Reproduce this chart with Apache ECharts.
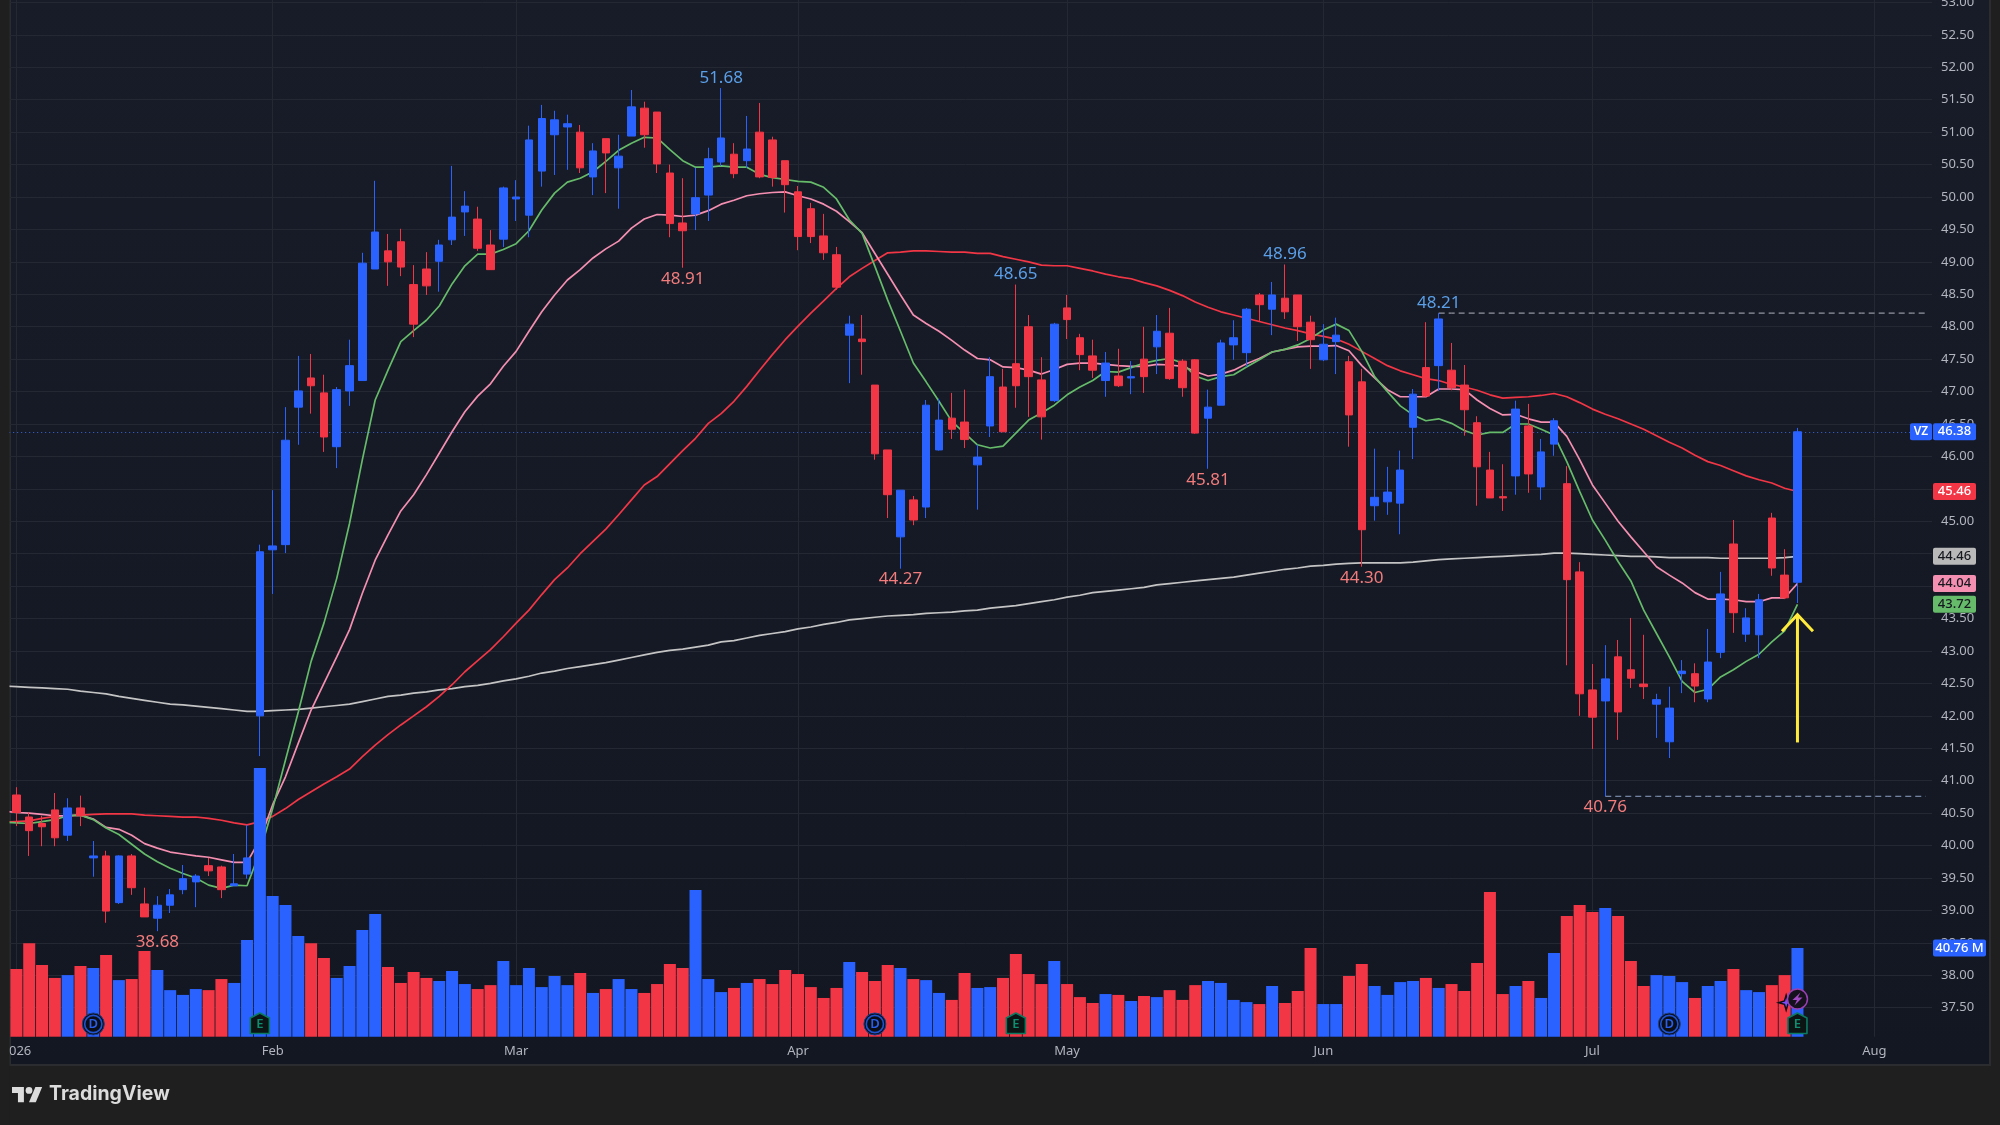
<!DOCTYPE html>
<html>
<head>
<meta charset="utf-8">
<title>VZ daily chart</title>
<script src="https://cdn.jsdelivr.net/npm/echarts@6/dist/echarts.min.js"></script>
<style>
  html, body { margin: 0; padding: 0; background: #1f1f1f; }
  #chart { width: 2000px; height: 1125px; }
</style>
</head>
<body>
<div id="chart"></div>
<script>
// Session candles: [open, close, low, high]
const candles = [
  [40.78,40.51,40.30,40.90],[40.44,40.23,39.84,40.51],[40.34,40.29,39.99,40.46],[40.55,40.12,39.99,40.81],
  [40.16,40.58,40.07,40.73],[40.58,40.46,40.30,40.77],[39.81,39.84,39.52,40.07],[39.84,38.99,38.81,39.92],
  [39.12,39.84,39.10,39.85],[39.84,39.35,39.24,39.87],[39.10,38.90,38.90,39.35],[38.88,39.08,38.68,39.22],
  [39.08,39.24,38.96,39.33],[39.32,39.49,39.25,39.70],[39.44,39.53,39.05,39.56],[39.69,39.61,39.53,39.81],
  [39.67,39.32,39.19,39.69],[39.38,39.41,39.38,39.87],[39.56,39.81,39.49,40.32],[42.00,44.53,41.38,44.64],
  [44.56,44.62,43.88,45.48],[44.64,46.25,44.51,46.76],[46.76,47.01,46.18,47.55],[47.21,47.09,46.66,47.58],
  [46.98,46.30,46.07,47.26],[46.15,47.03,45.82,47.07],[47.01,47.40,46.78,47.80],[47.17,48.98,47.17,49.14],
  [48.89,49.46,48.89,50.25],[49.17,49.00,48.63,49.43],[49.31,48.92,48.78,49.51],[48.65,48.04,47.84,48.95],
  [48.89,48.63,48.49,49.15],[49.01,49.26,48.54,49.34],[49.34,49.69,49.26,50.48],[49.77,49.86,49.40,50.09],
  [49.66,49.21,49.17,49.85],[49.26,48.88,48.88,49.49],[49.35,50.14,49.23,50.16],[49.97,50.00,49.63,50.26],
  [49.72,50.88,49.38,51.10],[50.40,51.21,50.16,51.42],[50.96,51.19,50.34,51.33],[51.08,51.13,50.42,51.27],
  [51.00,50.45,50.37,51.11],[50.31,50.71,50.03,50.83],[50.90,50.68,50.06,50.90],[50.45,50.63,49.82,50.96],
  [50.94,51.39,50.94,51.65],[51.37,50.96,50.76,51.47],[51.31,50.51,50.37,51.31],[50.37,49.59,49.38,50.50],
  [49.60,49.48,48.91,50.29],[49.74,49.99,49.49,50.45],[50.03,50.59,49.63,50.76],[50.54,50.91,50.48,51.68],
  [50.66,50.36,50.29,50.83],[50.56,50.74,50.45,51.25],[51.00,50.31,50.29,51.45],[50.88,50.30,50.16,50.93],
  [50.56,50.19,49.76,50.56],[50.08,49.39,49.18,50.17],[49.82,49.39,49.29,49.91],[49.40,49.14,49.03,49.74],
  [49.11,48.61,48.57,49.23],[47.87,48.04,47.13,48.17],[47.81,47.77,47.26,48.18],[47.10,46.04,45.95,47.10],
  [46.10,45.41,45.05,46.10],[44.76,45.48,44.27,45.48],[45.33,45.02,44.94,45.39],[45.22,46.79,45.05,46.87],
  [46.10,46.56,46.09,46.89],[46.59,46.42,46.27,46.98],[46.53,46.26,46.13,47.03],[45.87,45.99,45.18,46.18],
  [46.47,47.23,46.30,47.53],[47.07,46.38,46.38,47.35],[47.43,47.09,46.75,48.65],[48.00,47.23,46.61,48.18],
  [47.18,46.61,46.26,47.53],[46.86,48.04,46.84,48.06],[48.29,48.11,47.81,48.49],[47.83,47.57,47.33,47.89],
  [47.55,47.33,47.21,47.80],[47.17,47.44,46.92,47.61],[47.24,47.09,47.07,47.66],[47.21,47.23,46.96,47.47],
  [47.50,47.23,46.98,48.00],[47.69,47.93,47.27,48.18],[47.90,47.20,47.18,48.29],[47.47,47.06,46.92,47.50],
  [47.49,46.36,46.35,47.50],[46.59,46.76,45.81,47.03],[46.79,47.75,46.79,47.80],[47.72,47.83,47.49,48.10],
  [47.60,48.27,47.38,48.29],[48.49,48.34,48.09,48.52],[48.27,48.49,47.87,48.69],[48.44,48.23,48.12,48.96],
  [48.49,48.00,47.78,48.49],[48.07,47.80,47.35,48.17],[47.49,47.73,47.47,48.04],[47.77,47.87,47.27,48.14],
  [47.46,46.64,46.15,47.55],[47.15,44.87,44.30,47.35],[45.24,45.37,45.01,46.12],[45.30,45.45,45.10,45.84],
  [45.28,45.79,44.80,46.09],[46.45,46.96,45.96,47.04],[47.37,46.93,46.92,48.07],[47.40,48.12,47.01,48.21],
  [47.33,47.06,47.02,47.75],[47.10,46.72,46.32,47.41],[46.52,45.84,45.24,46.62],[45.79,45.36,45.36,46.07],
  [45.38,45.36,45.16,45.88],[45.70,46.73,45.41,46.86],[46.47,45.73,45.44,46.81],[45.53,46.07,45.33,46.27],
  [46.19,46.55,46.01,46.59],[45.58,44.10,42.78,45.85],[44.22,42.34,42.00,44.37],[42.40,41.98,41.49,42.80],
  [42.23,42.57,40.76,43.09],[42.91,42.06,41.63,43.17],[42.71,42.58,42.43,43.51],[42.49,42.45,42.26,43.25],
  [42.18,42.25,41.66,42.34],[41.60,42.12,41.35,42.45],[42.65,42.69,42.35,42.86],[42.65,42.46,42.21,42.81],
  [42.26,42.83,42.21,43.34],[42.98,43.88,42.89,44.22],[44.65,43.59,43.28,45.02],[43.26,43.51,43.14,43.66],
  [43.25,43.79,42.89,43.88],[45.05,44.28,44.16,45.13],[44.17,43.82,43.80,44.57],[44.06,46.38,43.74,46.44]
];

// Session volume, millions of shares
const volumes = [
  31.1,43.0,32.9,27.0,28.3,32.5,31.6,37.5,26.0,26.5,39.4,30.6,21.4,19.2,21.9,21.4,26.5,24.7,44.4,123.5,
  64.7,60.5,46.3,43.0,36.2,27.0,32.5,49.0,56.4,32.0,24.7,29.7,27.0,25.6,30.2,24.2,21.9,23.7,34.8,23.7,
  31.6,22.8,27.9,23.7,29.3,20.1,21.9,26.5,21.9,20.1,24.2,33.4,31.6,67.4,26.5,20.5,22.4,24.7,26.5,24.2,
  30.6,28.8,22.8,17.8,22.4,34.3,29.7,25.6,32.9,31.6,26.5,26.0,20.1,16.9,29.3,22.4,22.8,27.0,38.0,28.8,
  24.2,34.8,24.2,18.2,15.5,19.6,19.2,16.4,18.7,18.2,21.4,16.9,23.7,25.6,24.7,16.9,15.9,15.0,23.3,15.5,
  21.0,40.8,15.0,15.0,27.9,33.4,23.3,19.2,25.1,25.6,27.0,22.4,24.2,21.0,33.9,66.5,19.6,23.3,25.6,17.8,
  38.5,55.5,60.5,57.3,59.1,55.5,34.8,23.3,28.3,27.9,25.1,17.8,23.3,25.6,31.1,21.4,20.5,23.7,28.3,40.76
];

// Moving averages; the first reading belongs to the session just before the visible window
const maGreen = [40.36,
  40.35,40.34,40.37,40.40,40.46,40.47,40.40,40.27,40.17,40.02,39.87,39.75,39.65,39.57,39.50,39.39,39.34,39.39,39.38,39.90,
  40.57,41.32,42.06,42.84,43.43,44.12,44.97,45.95,46.87,47.33,47.77,47.94,48.10,48.32,48.66,48.94,49.12,49.12,49.19,49.28,
  49.48,49.80,50.06,50.23,50.29,50.39,50.55,50.72,50.83,50.92,50.91,50.73,50.56,50.46,50.46,50.48,50.46,50.46,50.35,50.30,
  50.27,50.24,50.23,50.15,49.97,49.65,49.44,48.93,48.41,47.93,47.44,47.15,46.85,46.54,46.36,46.18,46.13,46.16,46.36,46.56,
  46.67,46.79,46.95,47.07,47.17,47.31,47.30,47.37,47.44,47.48,47.51,47.44,47.24,47.17,47.23,47.26,47.38,47.49,47.61,47.65,
  47.72,47.82,47.95,48.04,47.94,47.62,47.23,47.00,46.78,46.64,46.55,46.58,46.51,46.40,46.33,46.37,46.37,46.50,46.50,46.42,
  46.33,45.92,45.46,45.02,44.71,44.38,44.08,43.63,43.27,42.91,42.53,42.36,42.41,42.60,42.71,42.84,42.95,43.14,43.31,43.72
];
const maPink = [40.53,
  40.51,40.50,40.48,40.46,40.46,40.47,40.41,40.28,40.25,40.16,40.03,39.96,39.90,39.87,39.84,39.82,39.78,39.74,39.74,40.09,
  40.63,41.06,41.58,42.09,42.50,42.91,43.33,43.89,44.40,44.79,45.16,45.41,45.72,46.05,46.38,46.69,46.93,47.12,47.39,47.62,
  47.93,48.23,48.49,48.72,48.88,49.06,49.20,49.32,49.52,49.66,49.73,49.72,49.70,49.72,49.79,49.89,49.95,50.02,50.05,50.07,
  50.08,50.02,49.97,49.89,49.78,49.62,49.45,49.13,48.81,48.49,48.18,48.05,47.93,47.79,47.64,47.51,47.49,47.38,47.37,47.33,
  47.27,47.34,47.42,47.44,47.44,47.42,47.40,47.39,47.39,47.42,47.41,47.39,47.31,47.24,47.27,47.33,47.43,47.51,47.61,47.65,
  47.69,47.70,47.70,47.71,47.63,47.40,47.21,47.03,46.92,46.92,46.92,47.04,47.04,47.03,46.87,46.74,46.64,46.65,46.58,46.53,
  46.53,46.31,45.95,45.56,45.28,45.00,44.76,44.53,44.30,44.17,44.05,43.90,43.80,43.80,43.79,43.76,43.76,43.82,43.82,44.04
];
const maRed = [40.36,
  40.37,40.38,40.42,40.45,40.46,40.47,40.48,40.49,40.49,40.49,40.47,40.46,40.45,40.44,40.44,40.42,40.39,40.35,40.32,40.37,
  40.45,40.57,40.71,40.83,40.95,41.06,41.18,41.37,41.55,41.71,41.86,42.00,42.14,42.30,42.48,42.68,42.85,43.02,43.22,43.43,
  43.63,43.87,44.10,44.28,44.50,44.69,44.88,45.10,45.33,45.56,45.69,45.89,46.09,46.28,46.51,46.66,46.85,47.08,47.33,47.57,
  47.80,48.01,48.21,48.40,48.59,48.77,48.90,49.02,49.14,49.15,49.17,49.17,49.16,49.15,49.15,49.13,49.13,49.08,49.04,49.00,
  48.95,48.94,48.94,48.90,48.86,48.81,48.77,48.74,48.68,48.63,48.56,48.48,48.38,48.30,48.23,48.18,48.13,48.08,48.03,47.98,
  47.94,47.89,47.85,47.81,47.73,47.62,47.51,47.40,47.32,47.26,47.20,47.17,47.11,47.07,47.02,46.95,46.90,46.91,46.92,46.94,
  46.97,46.92,46.83,46.73,46.65,46.58,46.50,46.42,46.32,46.22,46.13,46.02,45.92,45.86,45.78,45.70,45.64,45.59,45.51,45.46
];
const maGrey = [42.46,
  42.45,42.44,42.43,42.42,42.41,42.38,42.36,42.34,42.30,42.27,42.24,42.21,42.18,42.17,42.15,42.13,42.11,42.09,42.07,42.07,
  42.08,42.09,42.10,42.12,42.14,42.16,42.18,42.22,42.26,42.30,42.32,42.35,42.37,42.40,42.42,42.45,42.47,42.50,42.54,42.57,
  42.61,42.66,42.69,42.73,42.76,42.79,42.82,42.86,42.90,42.94,42.98,43.01,43.03,43.06,43.09,43.14,43.16,43.20,43.24,43.27,
  43.30,43.34,43.37,43.41,43.44,43.48,43.50,43.52,43.54,43.55,43.56,43.58,43.59,43.60,43.62,43.63,43.66,43.68,43.70,43.73,
  43.76,43.79,43.83,43.86,43.90,43.92,43.94,43.96,43.98,44.02,44.04,44.06,44.08,44.10,44.12,44.14,44.17,44.20,44.23,44.26,
  44.28,44.31,44.32,44.34,44.35,44.36,44.36,44.36,44.36,44.37,44.39,44.41,44.42,44.43,44.44,44.45,44.46,44.47,44.48,44.49,
  44.51,44.51,44.50,44.49,44.48,44.47,44.46,44.46,44.45,44.44,44.44,44.44,44.44,44.43,44.43,44.43,44.43,44.43,44.44,44.46
];

// Month ticks: session number and caption
const monthBars = [0, 20, 39, 61, 82, 102, 123, 145];
const monthNames = ['2026', 'Feb', 'Mar', 'Apr', 'May', 'Jun', 'Jul', 'Aug'];
const visibleSlots = 150;

// Swing highs and lows printed beside the candles: [session, price, side]
const swings = [
  [11, 38.68, 'low'], [52, 48.91, 'low'], [55, 51.68, 'high'], [69, 44.27, 'low'], [78, 48.65, 'high'],
  [93, 45.81, 'low'], [99, 48.96, 'high'], [105, 44.30, 'low'], [111, 48.21, 'high'], [124, 40.76, 'low']
];

// Right-scale tags: [value, background, text colour]
const priceTags = [
  [45.46, '#f23645', '#ffffff'],
  [44.46, '#b9b9b9', '#16181f'],
  [44.04, '#f48fb1', '#16181f'],
  [43.72, '#66bb6a', '#16181f'],
  [46.38, '#2962ff', '#ffffff']
];
const lastPrice = 46.38;
const lastVolumeText = '40.76 M';
const tickerName = 'VZ';

// Corporate-event markers on the volume baseline
const dividendBars = [6, 67, 129];
const earningsBars = [19, 78, 139];

// Dashed levels from the last swing high and low, and the annotation arrow
const levelHigh = { bar: 111, price: 48.21 };
const levelLow = { bar: 124, price: 40.76 };
const arrow = { bar: 139, tail: 41.59, tip: 43.56 };

const UP = '#2962ff', DOWN = '#f23645';
const AXIS_TEXT = '#b2b5be';
const GRID_LINE = '#242832';
const FONT = '"Noto Sans"';

// One hidden slot sits left of the panel so the averages run up to its edge
const LEAD = 1;
const SLOT_PX = 1922 / visibleSlots;
const slotCount = visibleSlots + LEAD;
const lastSlot = slotCount - 1;

const categories = Array.from({ length: slotCount }, (_, s) => {
  const at = monthBars.indexOf(s - LEAD);
  return at >= 0 ? monthNames[at] : '';
});
const isMonth = (s) => monthBars.indexOf(s - LEAD) >= 0;
const isUp = (c) => c[1] > c[0];

const centerText = (text, x, y, fill, font) => ({
  type: 'text',
  style: { text, x, y, fill, font, align: 'center', verticalAlign: 'middle', textAlign: 'center', textVerticalAlign: 'middle' }
});

const chart = echarts.init(document.getElementById('chart'), null, { renderer: 'canvas' });

const lineSeries = (name, data, color) => ({
  name, type: 'line', data, xAxisIndex: 0, yAxisIndex: 0, z: 2,
  symbol: 'none', smooth: false, silent: true,
  lineStyle: { color, width: 1.7 }
});

const tagRect = (x, y, w, fill) => ({
  type: 'rect', shape: { x, y: y - 8.5, width: w, height: 17, r: 2 }, style: { fill }
});

chart.setOption({
  animation: false,
  backgroundColor: '#1f1f1f',
  textStyle: { fontFamily: FONT },
  graphic: [
    {
      type: 'rect', z: -10, silent: true,
      shape: { x: 10, y: -5, width: 1980, height: 1070 },
      style: {
        fill: new echarts.graphic.LinearGradient(0, 0, 0, 1, [
          { offset: 0, color: '#181c28' }, { offset: 1, color: '#131722' }
        ]),
        stroke: '#2b2c30', lineWidth: 2
      }
    },
    // Left margin sits over the clipped year caption and the hidden slot
    {
      type: 'rect', z: 200, silent: true,
      shape: { x: 0, y: 0, width: 9.5, height: 1125 },
      style: { fill: '#1f1f1f' }
    },
    // Brand mark
    {
      type: 'group', x: 12, y: 1083.6, scaleX: 0.85, scaleY: 0.85, silent: true, z: 50,
      children: [
        { type: 'polygon', shape: { points: [[0, 4], [14, 4], [14, 22], [7, 22], [7, 11], [0, 11]] }, style: { fill: '#dcdcdc' } },
        { type: 'polygon', shape: { points: [[28, 22], [20, 22], [27.5, 4], [35.5, 4]] }, style: { fill: '#dcdcdc' } },
        { type: 'circle', shape: { cx: 20, cy: 8, r: 4 }, style: { fill: '#dcdcdc' } }
      ]
    },
    {
      type: 'text', x: 49, y: 1094.5, z: 50, silent: true,
      style: { text: 'TradingView', fill: '#dcdcdc', font: '700 19.5px Inter', verticalAlign: 'middle', textVerticalAlign: 'middle' }
    }
  ],
  grid: [
    { left: 10 - SLOT_PX * LEAD, width: SLOT_PX * slotCount, top: 2.45, height: 1005.25, containLabel: false, outerBoundsMode: 'none' },
    { left: 10 - SLOT_PX * LEAD, width: SLOT_PX * slotCount, top: 0, height: 1036.7, containLabel: false, outerBoundsMode: 'none' }
  ],
  xAxis: [
    { type: 'category', gridIndex: 0, data: categories, show: false, boundaryGap: true },
    {
      type: 'category', gridIndex: 1, data: categories, boundaryGap: true,
      axisLine: { show: false }, axisTick: { show: false },
      axisLabel: {
        show: true, interval: (s) => isMonth(s), margin: 8, color: AXIS_TEXT,
        fontFamily: FONT, fontSize: 13, hideOverlap: false
      },
      splitLine: {
        show: true, alignWithLabel: true, interval: (s) => isMonth(s),
        lineStyle: { color: GRID_LINE, width: 1 }
      }
    }
  ],
  yAxis: [
    {
      type: 'value', gridIndex: 0, position: 'right', min: 37.5, max: 53, interval: 0.5,
      axisLine: { show: false }, axisTick: { show: false },
      axisLabel: {
        margin: 9, color: AXIS_TEXT, fontFamily: FONT, fontSize: 13,
        showMinLabel: true, showMaxLabel: true, formatter: (v) => v.toFixed(2)
      },
      splitLine: { show: true, lineStyle: { color: GRID_LINE, width: 1 } }
    },
    {
      type: 'value', gridIndex: 1, min: 0, max: 476.4, show: false,
      axisLine: { show: false }, axisTick: { show: false }, axisLabel: { show: false }, splitLine: { show: false }
    }
  ],
  series: [
    lineSeries('MA long', maGrey, '#c4c4c4'),
    lineSeries('MA slow', maRed, '#f23645'),
    lineSeries('MA mid', maPink, '#f48fb1'),
    lineSeries('MA fast', maGreen, '#66bb6a'),
    {
      name: 'Volume', type: 'bar', xAxisIndex: 1, yAxisIndex: 1, z: 3, silent: true,
      barWidth: 12,
      data: ['-'].concat(volumes.map((v, i) => ({ value: v, itemStyle: { color: isUp(candles[i]) ? UP : DOWN } })))
    },
    {
      name: 'VZ', type: 'candlestick', xAxisIndex: 0, yAxisIndex: 0, z: 4, silent: true,
      barWidth: 8, data: [['-', '-', '-', '-']].concat(candles),
      itemStyle: { color: UP, color0: DOWN, borderColor: UP, borderColor0: DOWN, borderWidth: 1 },
      markLine: {
        silent: true, symbol: 'none', z: 2, animation: false,
        label: { show: false },
        lineStyle: { color: '#3c6fe8', width: 1, type: [1, 3], opacity: 0.95 },
        data: [{ yAxis: lastPrice }]
      }
    },
    {
      name: 'High level', type: 'line', xAxisIndex: 0, yAxisIndex: 0, z: 3, symbol: 'none', silent: true,
      data: categories.map((_, s) => (s >= levelHigh.bar + LEAD ? levelHigh.price : null)),
      lineStyle: { color: '#b2b5be', width: 1, type: [6, 4] }
    },
    {
      name: 'Low level', type: 'line', xAxisIndex: 0, yAxisIndex: 0, z: 3, symbol: 'none', silent: true,
      data: categories.map((_, s) => (s >= levelLow.bar + LEAD ? levelLow.price : null)),
      lineStyle: { color: '#8fa6c8', width: 1, type: [6, 4] }
    },
    {
      name: 'Swings', type: 'custom', xAxisIndex: 0, yAxisIndex: 0, z: 6, silent: true,
      data: swings.map((s) => [s[0] + LEAD, s[1]]),
      encode: { x: 0, y: 1 },
      renderItem: (params, api) => {
        const s = swings[params.dataIndex];
        const p = api.coord([s[0] + LEAD, s[1]]);
        const high = s[2] === 'high';
        return centerText(s[1].toFixed(2), p[0], p[1] + (high ? -10 : 11), high ? '#5a9fe8' : '#f27c7c', `17px ${FONT}`);
      }
    },
    {
      name: 'Arrow', type: 'custom', xAxisIndex: 0, yAxisIndex: 0, z: 7, silent: true,
      data: [[arrow.bar + LEAD, arrow.tail, arrow.tip]],
      encode: { x: 0, y: 1 },
      renderItem: (params, api) => {
        const tail = api.coord([arrow.bar + LEAD, arrow.tail]);
        const tip = api.coord([arrow.bar + LEAD, arrow.tip]);
        const style = { stroke: '#ffeb3b', lineWidth: 3, fill: null };
        return {
          type: 'group',
          children: [
            { type: 'polyline', shape: { points: [tail, tip] }, style },
            { type: 'polyline', shape: { points: [[tip[0] - 15.5, tip[1] + 16.5], tip, [tip[0] + 15.5, tip[1] + 16.5]] }, style }
          ]
        };
      }
    },
    {
      name: 'Price tags', type: 'custom', xAxisIndex: 0, yAxisIndex: 0, z: 8, silent: true,
      data: priceTags.map((t) => [lastSlot, t[0]]),
      encode: { x: 0, y: 1 },
      renderItem: (params, api) => {
        const t = priceTags[params.dataIndex];
        const y = api.coord([lastSlot, t[0]])[1];
        const children = [
          tagRect(1933, y, 43, t[1]),
          centerText(t[0].toFixed(2), 1954.5, y, t[2], `500 13px ${FONT}`)
        ];
        if (t[0] === lastPrice) {
          children.push(tagRect(1910, y, 22, t[1]));
          children.push(centerText(tickerName, 1921, y, t[2], `600 12px ${FONT}`));
        }
        return { type: 'group', children };
      }
    },
    {
      name: 'Volume tag', type: 'custom', xAxisIndex: 1, yAxisIndex: 1, z: 8, silent: true,
      data: [[lastSlot, volumes[volumes.length - 1]]],
      encode: { x: 0, y: 1 },
      renderItem: (params, api) => {
        const y = api.coord([lastSlot, volumes[volumes.length - 1]])[1];
        return {
          type: 'group',
          children: [
            tagRect(1933, y, 53, UP),
            centerText(lastVolumeText, 1959.5, y, '#ffffff', `500 13px ${FONT}`)
          ]
        };
      }
    },
    {
      name: 'Dividends', type: 'custom', xAxisIndex: 1, yAxisIndex: 1, z: 7, silent: true,
      data: dividendBars.map((b) => [b + LEAD, 0]),
      encode: { x: 0, y: 1 },
      renderItem: (params, api) => {
        const p = api.coord([dividendBars[params.dataIndex] + LEAD, 0]);
        const cx = p[0], cy = p[1] - 12.7;
        return {
          type: 'group',
          children: [
            { type: 'circle', shape: { cx, cy, r: 11 }, style: { fill: '#0b0e16', stroke: '#1c3f8f', lineWidth: 1 } },
            { type: 'circle', shape: { cx, cy, r: 8.6 }, style: { fill: '#0b0e16', stroke: '#1f53d0', lineWidth: 1.6 } },
            centerText('D', cx, cy, '#2a5ee8', `600 13px ${FONT}`)
          ]
        };
      }
    },
    {
      name: 'Earnings', type: 'custom', xAxisIndex: 1, yAxisIndex: 1, z: 7, silent: true,
      data: earningsBars.map((b) => [b + LEAD, 0]),
      encode: { x: 0, y: 1 },
      renderItem: (params, api) => {
        const p = api.coord([earningsBars[params.dataIndex] + LEAD, 0]);
        const cx = p[0], cy = p[1] - 12.7;
        return {
          type: 'group',
          children: [
            {
              type: 'polygon',
              shape: { points: [[cx, cy - 11], [cx + 9.5, cy - 6], [cx + 9.5, cy + 9.5], [cx - 9.5, cy + 9.5], [cx - 9.5, cy - 6]] },
              style: { fill: '#0d1414', stroke: '#0b7a60', lineWidth: 1.6, lineJoin: 'round' }
            },
            centerText('E', cx, cy, '#0e8f70', `600 13px ${FONT}`)
          ]
        };
      }
    },
    {
      name: 'Alert', type: 'custom', xAxisIndex: 1, yAxisIndex: 1, z: 7, silent: true,
      data: [[139 + LEAD, 0]],
      encode: { x: 0, y: 1 },
      renderItem: (params, api) => {
        const p = api.coord([139 + LEAD, 0]);
        const cx = p[0], cy = p[1] - 37.7;
        const sx = cx - 11.3, sy = cy + 3.7;
        const spark = [];
        for (let k = 0; k < 8; k++) {
          const r = k % 2 === 0 ? 7.5 : 2.4;
          const a = k * Math.PI / 4 - Math.PI / 2;
          spark.push([sx + r * Math.cos(a), sy + r * Math.sin(a)]);
        }
        return {
          type: 'group',
          children: [
            { type: 'polygon', shape: { points: spark }, style: { fill: '#7c4dff', stroke: '#0d0d15', lineWidth: 1.5 } },
            { type: 'circle', shape: { cx, cy, r: 10 }, style: { fill: '#16121d', stroke: '#9a40b4', lineWidth: 1.5 } },
            {
              type: 'polygon',
              shape: { points: [[cx + 3, cy - 6.5], [cx - 5, cy + 1], [cx - 0.5, cy + 1], [cx - 3, cy + 6.5], [cx + 5, cy - 1.5], [cx + 0.5, cy - 1.5]] },
              style: { fill: '#a349c4' }
            }
          ]
        };
      }
    }
  ]
});
</script>
</body>
</html>
